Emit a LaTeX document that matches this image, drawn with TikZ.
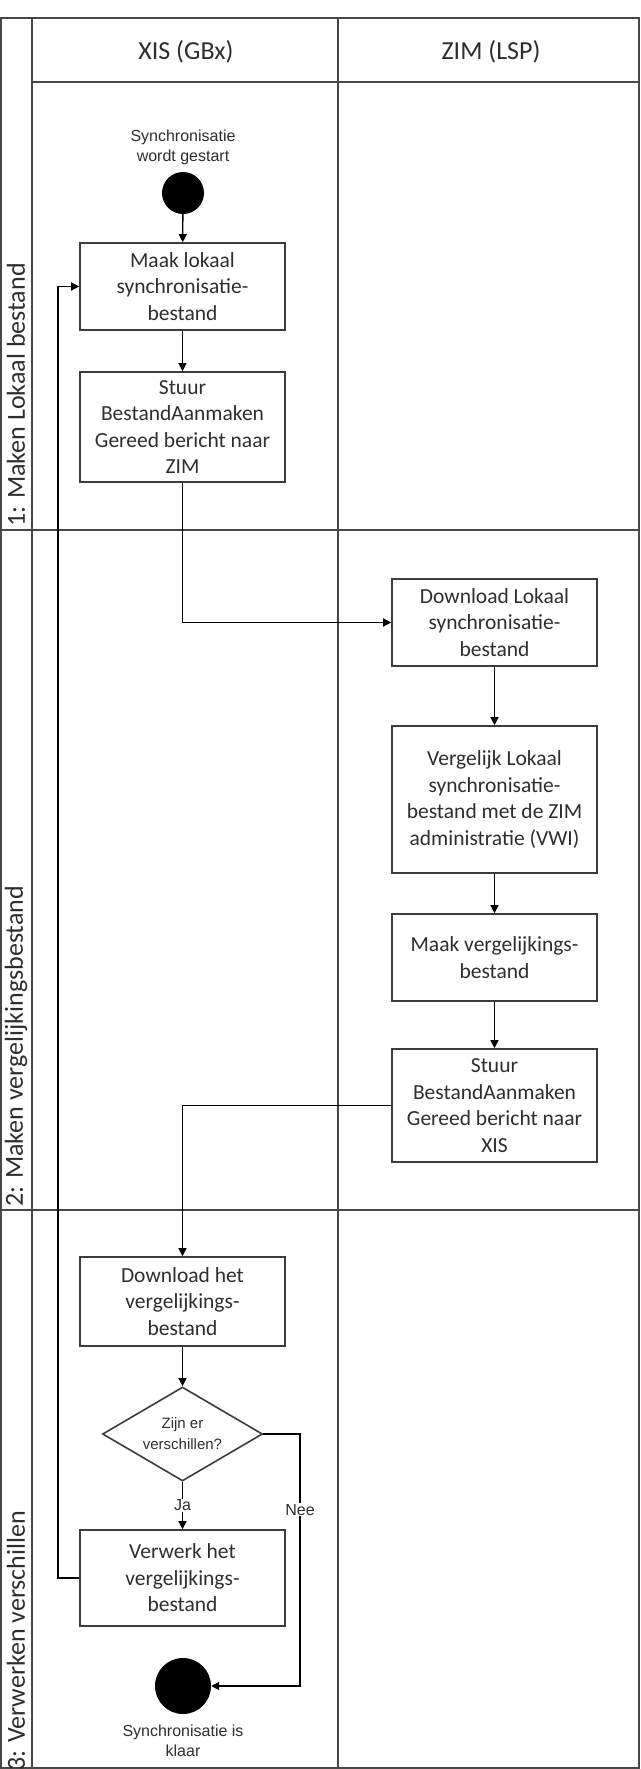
\documentclass[tikz,border=0pt]{standalone}
\usepackage{fontspec}
\setmainfont{Carlito}
\newfontfamily\arialf{Liberation Sans}
\usetikzlibrary{shapes.geometric,arrows.meta}
\definecolor{lanegray}{HTML}{474747}
\definecolor{boxgray}{HTML}{3C3C3C}
\definecolor{txtgray}{HTML}{2E2E2E}
\begin{document}
\begin{tikzpicture}[x=1pt,y=-1pt,
  lane/.style={draw=lanegray,line width=2pt},
  box/.style={draw=boxgray,line width=1.6pt,fill=white,minimum width=205pt,inner sep=0pt,align=center,text=txtgray,font=\fontsize{21.5}{26.5}\selectfont},
  conn/.style={draw=black,line width=1.3pt},
  arr/.style={conn,-{Triangle[length=8pt,width=8pt]}},
  small/.style={font=\arialf\fontsize{16}{20}\selectfont,align=center,inner sep=1pt,text=txtgray},
  dot/.style={circle,fill=black,inner sep=0pt},
  lanelabel/.style={rotate=90,anchor=west,inner sep=0pt,text=txtgray,font=\fontsize{26}{30}\selectfont},
  head/.style={inner sep=0pt,text=txtgray,font=\fontsize{26}{30}\selectfont}]
\useasboundingbox (0,0) rectangle (640,1769);
\fill[white] (0,0) rectangle (640,1769);

% swimlane frame
\draw[lane] (1,18) rectangle (639,1768);
\draw[lane] (32,18) -- (32,1769);
\draw[lane] (338,18) -- (338,1769);
\draw[lane] (32,82) -- (640,82);
\draw[lane] (0,530) -- (640,530);
\draw[lane] (0,1210) -- (640,1210);

% headers
\node[head] (hxis) at (186,52) {XIS (GBx)};
\node[head] (hzim) at (491,52) {ZIM (LSP)};

% lane labels
\node[lanelabel] (l1) at (16,527) {1: Maken Lokaal bestand};
\node[lanelabel] (l2) at (16,1207) {2: Maken vergelijkingsbestand};
\node[lanelabel] (l3) at (16,1771) {3: Verwerken verschillen};

% start
\node[small] (slabel) at (183,147) {Synchronisatie\\wordt gestart};
\node[dot,minimum size=42pt] (start) at (183,193) {};

% XIS lane 1
\node[box,minimum height=87pt] (b1) at (182.5,286.5) {Maak lokaal\\synchronisatie-\\bestand};
\node[box,minimum height=110pt] (b2) at (182.5,427) {Stuur\\BestandAanmaken\\Gereed bericht naar\\ZIM};

% ZIM lane 2
\node[box,minimum height=87pt] (dl) at (494.5,622.5) {Download Lokaal\\synchronisatie-\\bestand};
\node[box,minimum height=147pt] (verg) at (494.5,799.5) {Vergelijk Lokaal\\synchronisatie-\\bestand met de ZIM\\administratie (VWI)};
\node[box,minimum height=87pt] (maak) at (494.5,957.5) {Maak vergelijkings-\\bestand};
\node[box,minimum height=113pt] (stx) at (494.5,1105.5) {Stuur\\BestandAanmaken\\Gereed bericht naar\\XIS};

% XIS lane 3
\node[box,minimum height=89pt] (dlh) at (182.5,1301.5) {Download het\\vergelijkings-\\bestand};
\node[draw=boxgray,line width=1.6pt,fill=white,diamond,aspect=1.7,inner sep=0pt,minimum width=160pt,minimum height=94pt,align=center,text=txtgray,font=\arialf\fontsize{15}{21}\selectfont] (dia) at (182.5,1434) {Zijn er\\verschillen?};
\node[box,minimum height=96pt] (vw) at (182.5,1578) {Verwerk het\\vergelijkings-\\bestand};
\node[dot,minimum size=56pt] (fin) at (183,1686) {};
\node[small] (flabel) at (183,1741) {Synchronisatie is\\klaar};

% connectors
\coordinate (neeA) at (300,1434);
\coordinate (neeB) at (300,1686);
\coordinate (loopA) at (58,1578);

\draw[arr] (start) -- (b1);
\draw[arr] (b1) -- (b2);
\draw[arr] (b2.south) |- (dl.west);
\draw[arr] (dl) -- (verg);
\draw[arr] (verg) -- (maak);
\draw[arr] (maak) -- (stx);
\draw[arr] (stx.west) -| (dlh.north);
\draw[arr] (dlh) -- (dia);
\draw[arr] (dia) -- node[small,fill=white] (ja) {Ja} (vw);
\draw[arr] (dia.east) -- (neeA) -- node[small,fill=white,pos=0.3] (nee) {Nee} (neeB) -- (fin);
\draw[arr] (vw.west) -- (loopA) |- (b1.west);
\end{tikzpicture}
\end{document}
